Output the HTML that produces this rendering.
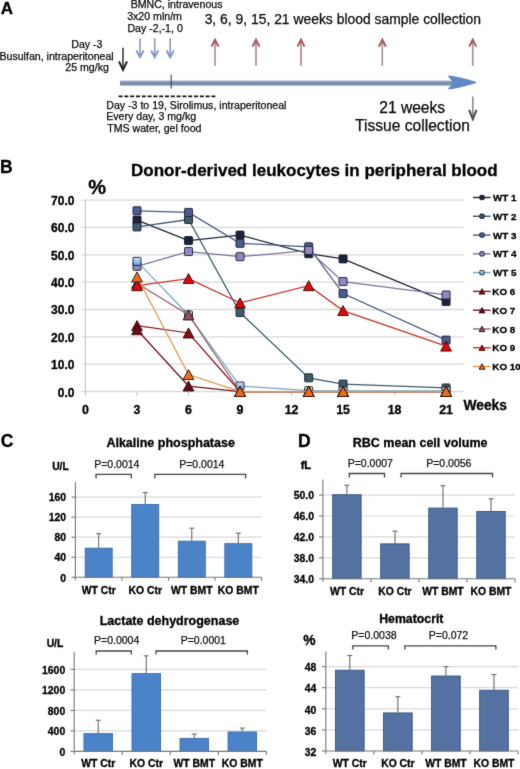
<!DOCTYPE html>
<html><head><meta charset="utf-8"><style>
html,body{margin:0;padding:0;background:#fff;}
svg{display:block;}
#w{width:520px;height:769px;overflow:hidden;will-change:transform;}
text{font-family:"Liberation Sans",sans-serif;}
</style></head><body><div id="w">
<svg width="520" height="769" viewBox="0 0 520 769">
<defs><filter id="bl" x="0" y="0" width="520" height="769" filterUnits="userSpaceOnUse" color-interpolation-filters="sRGB"><feConvolveMatrix order="3" kernelMatrix="1 2 1 2 28 2 1 2 1" divisor="40" edgeMode="duplicate"/></filter><linearGradient id="tb" x1="0" y1="0" x2="0" y2="1"><stop offset="0" stop-color="#b8c6dc"/><stop offset="0.3" stop-color="#8298b8"/><stop offset="0.65" stop-color="#72879f"/><stop offset="1" stop-color="#c4c8d0"/></linearGradient><linearGradient id="g5" x1="0" y1="0" x2="0" y2="1"><stop offset="0" stop-color="#c4e2f6"/><stop offset="1" stop-color="#6fa3d6"/></linearGradient></defs>
<g filter="url(#bl)"><rect width="520" height="769" fill="#fff"/>
<text x="0.68" y="13.50" font-size="17" font-weight="bold" fill="#000" stroke="#000" stroke-width="0.3"  >A</text>
<text x="71.25" y="48.30" font-size="10.6"  fill="#0a0a0a" stroke="#0a0a0a" stroke-width="0.25"  >Day -3</text>
<text x="-0.55" y="59.60" font-size="10.6"  fill="#0a0a0a" stroke="#0a0a0a" stroke-width="0.25"  >Busulfan, intraperitoneal</text>
<text x="65.27" y="71.20" font-size="10.6"  fill="#0a0a0a" stroke="#0a0a0a" stroke-width="0.25"  >25 mg/kg</text>
<text x="130.65" y="7.70" font-size="10.6"  fill="#0a0a0a" stroke="#0a0a0a" stroke-width="0.25"  >BMNC, intravenous</text>
<text x="127.18" y="19.60" font-size="10.6"  fill="#0a0a0a" stroke="#0a0a0a" stroke-width="0.25"  >3x20 mln/m</text>
<text x="127.45" y="32.30" font-size="10.6"  fill="#0a0a0a" stroke="#0a0a0a" stroke-width="0.25"  >Day -2,-1, 0</text>
<text x="204.64" y="23.50" font-size="13.9"  fill="#0a0a0a" stroke="#0a0a0a" stroke-width="0.25"  >3, 6, 9, 15, 21 weeks blood sample collection</text>
<text x="379.22" y="112.50" font-size="15.6"  fill="#0a0a0a" stroke="#0a0a0a" stroke-width="0.25"  >21 weeks</text>
<text x="355.11" y="130.75" font-size="15.6"  fill="#0a0a0a" stroke="#0a0a0a" stroke-width="0.25"  >Tissue collection</text>
<text x="106.25" y="108.80" font-size="10.6"  fill="#0a0a0a" stroke="#0a0a0a" stroke-width="0.25"  >Day -3 to 19, Sirolimus, intraperitoneal</text>
<text x="106.25" y="120.30" font-size="10.6"  fill="#0a0a0a" stroke="#0a0a0a" stroke-width="0.25"  >Every day, 3 mg/kg</text>
<text x="107.23" y="131.80" font-size="10.6"  fill="#0a0a0a" stroke="#0a0a0a" stroke-width="0.25"  >TMS water, gel food</text>
<line x1="123.00" y1="47.70" x2="123.00" y2="68.50" stroke="#3a3a3a" stroke-width="1.6" />
<path d="M119.00,61.50 L123.00,70.00 L127.00,61.50" fill="none" stroke="#222" stroke-width="2" stroke-linejoin="miter"/>
<line x1="140.00" y1="38.20" x2="140.00" y2="55.70" stroke="#9099ae" stroke-width="1.6" />
<path d="M136.40,50.60 L140.00,57.20 L143.60,50.60" fill="none" stroke="#8199cc" stroke-width="2" stroke-linejoin="miter"/>
<line x1="154.70" y1="38.20" x2="154.70" y2="55.70" stroke="#9099ae" stroke-width="1.6" />
<path d="M151.10,50.60 L154.70,57.20 L158.30,50.60" fill="none" stroke="#8199cc" stroke-width="2" stroke-linejoin="miter"/>
<line x1="170.20" y1="38.20" x2="170.20" y2="55.70" stroke="#9099ae" stroke-width="1.6" />
<path d="M166.60,50.60 L170.20,57.20 L173.80,50.60" fill="none" stroke="#8199cc" stroke-width="2" stroke-linejoin="miter"/>
<line x1="215.00" y1="41.30" x2="215.00" y2="65.80" stroke="#a58a8d" stroke-width="1.6" />
<path d="M211.50,46.60 L215.00,39.80 L218.50,46.60" fill="none" stroke="#a65562" stroke-width="2" stroke-linejoin="miter"/>
<line x1="256.00" y1="41.30" x2="256.00" y2="65.80" stroke="#a58a8d" stroke-width="1.6" />
<path d="M252.50,46.60 L256.00,39.80 L259.50,46.60" fill="none" stroke="#a65562" stroke-width="2" stroke-linejoin="miter"/>
<line x1="301.00" y1="41.30" x2="301.00" y2="65.80" stroke="#a58a8d" stroke-width="1.6" />
<path d="M297.50,46.60 L301.00,39.80 L304.50,46.60" fill="none" stroke="#a65562" stroke-width="2" stroke-linejoin="miter"/>
<line x1="382.30" y1="41.30" x2="382.30" y2="65.80" stroke="#a58a8d" stroke-width="1.6" />
<path d="M378.80,46.60 L382.30,39.80 L385.80,46.60" fill="none" stroke="#a65562" stroke-width="2" stroke-linejoin="miter"/>
<line x1="472.70" y1="41.30" x2="472.70" y2="65.80" stroke="#a58a8d" stroke-width="1.6" />
<path d="M469.20,46.60 L472.70,39.80 L476.20,46.60" fill="none" stroke="#a65562" stroke-width="2" stroke-linejoin="miter"/>
<line x1="472.80" y1="96.40" x2="472.80" y2="117.50" stroke="#8a8a8a" stroke-width="1.6" />
<path d="M469.10,109.80 L472.80,119.00 L476.50,109.80" fill="none" stroke="#4a4a4a" stroke-width="2" stroke-linejoin="miter"/>
<rect x="120.00" y="80.40" width="334.00" height="5.60" fill="url(#tb)" />
<path d="M452.8,80.6 L449,76.3 C457,77.3 467,80 475.5,82.4 C467,84.8 457,87.6 449,88.6 L452.8,85 Z" fill="#6088c4" stroke="#6088c4" stroke-width="1.6" stroke-linejoin="round"/>
<line x1="171.20" y1="75.00" x2="171.20" y2="88.50" stroke="#3a4658" stroke-width="1.1" />
<line x1="118.60" y1="96.40" x2="216.00" y2="96.40" stroke="#111" stroke-width="1.6" stroke-dasharray="4 1.8"/>
<text x="-0.04" y="172.70" font-size="17.5" font-weight="bold" fill="#000" stroke="#000" stroke-width="0.3"  >B</text>
<text x="131.09" y="175.80" font-size="17" font-weight="bold" fill="#000" stroke="#000" stroke-width="0.3"  >Donor-derived leukocytes in peripheral blood</text>
<text x="88.30" y="193.70" font-size="20" font-weight="bold" fill="#000" stroke="#000" stroke-width="0.3"  >%</text>
<line x1="81.70" y1="391.50" x2="463.70" y2="391.50" stroke="#d9d9d9" stroke-width="1.3" />
<text x="74.40" y="396.50" font-size="12" font-weight="bold" fill="#000" stroke="#000" stroke-width="0.3" text-anchor="end" >0.0</text>
<line x1="81.70" y1="364.16" x2="463.70" y2="364.16" stroke="#d9d9d9" stroke-width="1.3" />
<text x="74.40" y="369.16" font-size="12" font-weight="bold" fill="#000" stroke="#000" stroke-width="0.3" text-anchor="end" >10.0</text>
<line x1="81.70" y1="336.82" x2="463.70" y2="336.82" stroke="#d9d9d9" stroke-width="1.3" />
<text x="74.40" y="341.82" font-size="12" font-weight="bold" fill="#000" stroke="#000" stroke-width="0.3" text-anchor="end" >20.0</text>
<line x1="81.70" y1="309.48" x2="463.70" y2="309.48" stroke="#d9d9d9" stroke-width="1.3" />
<text x="74.40" y="314.48" font-size="12" font-weight="bold" fill="#000" stroke="#000" stroke-width="0.3" text-anchor="end" >30.0</text>
<line x1="81.70" y1="282.14" x2="463.70" y2="282.14" stroke="#d9d9d9" stroke-width="1.3" />
<text x="74.40" y="287.14" font-size="12" font-weight="bold" fill="#000" stroke="#000" stroke-width="0.3" text-anchor="end" >40.0</text>
<line x1="81.70" y1="254.80" x2="463.70" y2="254.80" stroke="#d9d9d9" stroke-width="1.3" />
<text x="74.40" y="259.80" font-size="12" font-weight="bold" fill="#000" stroke="#000" stroke-width="0.3" text-anchor="end" >50.0</text>
<line x1="81.70" y1="227.46" x2="463.70" y2="227.46" stroke="#d9d9d9" stroke-width="1.3" />
<text x="74.40" y="232.46" font-size="12" font-weight="bold" fill="#000" stroke="#000" stroke-width="0.3" text-anchor="end" >60.0</text>
<line x1="81.70" y1="200.12" x2="463.70" y2="200.12" stroke="#d9d9d9" stroke-width="1.3" />
<text x="74.40" y="205.12" font-size="12" font-weight="bold" fill="#000" stroke="#000" stroke-width="0.3" text-anchor="end" >70.0</text>
<line x1="85.40" y1="200.00" x2="85.40" y2="395.80" stroke="#c8c8c8" stroke-width="1.2" />
<line x1="85.50" y1="391.50" x2="85.50" y2="395.80" stroke="#c8c8c8" stroke-width="1.1" />
<text x="85.50" y="413.60" font-size="12.4" font-weight="bold" fill="#000" stroke="#000" stroke-width="0.3" text-anchor="middle" >0</text>
<line x1="137.01" y1="391.50" x2="137.01" y2="395.80" stroke="#c8c8c8" stroke-width="1.1" />
<text x="137.01" y="413.60" font-size="12.4" font-weight="bold" fill="#000" stroke="#000" stroke-width="0.3" text-anchor="middle" >3</text>
<line x1="188.52" y1="391.50" x2="188.52" y2="395.80" stroke="#c8c8c8" stroke-width="1.1" />
<text x="188.52" y="413.60" font-size="12.4" font-weight="bold" fill="#000" stroke="#000" stroke-width="0.3" text-anchor="middle" >6</text>
<line x1="240.03" y1="391.50" x2="240.03" y2="395.80" stroke="#c8c8c8" stroke-width="1.1" />
<text x="240.03" y="413.60" font-size="12.4" font-weight="bold" fill="#000" stroke="#000" stroke-width="0.3" text-anchor="middle" >9</text>
<line x1="291.54" y1="391.50" x2="291.54" y2="395.80" stroke="#c8c8c8" stroke-width="1.1" />
<text x="291.54" y="413.60" font-size="12.4" font-weight="bold" fill="#000" stroke="#000" stroke-width="0.3" text-anchor="middle" >12</text>
<line x1="343.05" y1="391.50" x2="343.05" y2="395.80" stroke="#c8c8c8" stroke-width="1.1" />
<text x="343.05" y="413.60" font-size="12.4" font-weight="bold" fill="#000" stroke="#000" stroke-width="0.3" text-anchor="middle" >15</text>
<line x1="394.56" y1="391.50" x2="394.56" y2="395.80" stroke="#c8c8c8" stroke-width="1.1" />
<text x="394.56" y="413.60" font-size="12.4" font-weight="bold" fill="#000" stroke="#000" stroke-width="0.3" text-anchor="middle" >18</text>
<line x1="446.07" y1="391.50" x2="446.07" y2="395.80" stroke="#c8c8c8" stroke-width="1.1" />
<text x="446.07" y="413.60" font-size="12.4" font-weight="bold" fill="#000" stroke="#000" stroke-width="0.3" text-anchor="middle" >21</text>
<text x="463.50" y="410.20" font-size="13.8" font-weight="bold" fill="#000" stroke="#000" stroke-width="0.3"  >Weeks</text>
<polyline points="137.01,220.08 188.52,240.58 240.03,235.12 308.71,253.71 343.05,258.90 446.07,301.55" fill="none" stroke="#1e2438" stroke-width="1.25"/>
<rect x="133.01" y="216.08" width="8.00" height="8.00" rx="0.8" fill="#1c2238" stroke="#1a1a2a" stroke-width="0.9"/>
<rect x="184.52" y="236.58" width="8.00" height="8.00" rx="0.8" fill="#1c2238" stroke="#1a1a2a" stroke-width="0.9"/>
<rect x="236.03" y="231.12" width="8.00" height="8.00" rx="0.8" fill="#1c2238" stroke="#1a1a2a" stroke-width="0.9"/>
<rect x="304.71" y="249.71" width="8.00" height="8.00" rx="0.8" fill="#1c2238" stroke="#1a1a2a" stroke-width="0.9"/>
<rect x="339.05" y="254.90" width="8.00" height="8.00" rx="0.8" fill="#1c2238" stroke="#1a1a2a" stroke-width="0.9"/>
<rect x="442.07" y="297.55" width="8.00" height="8.00" rx="0.8" fill="#1c2238" stroke="#1a1a2a" stroke-width="0.9"/>
<polyline points="137.01,226.91 188.52,219.53 240.03,312.49 308.71,377.83 343.05,384.12 446.07,387.95" fill="none" stroke="#3c5a66" stroke-width="1.25"/>
<rect x="133.01" y="222.91" width="8.00" height="8.00" rx="0.8" fill="#3d5c6a" stroke="#1a1a2a" stroke-width="0.9"/>
<rect x="184.52" y="215.53" width="8.00" height="8.00" rx="0.8" fill="#3d5c6a" stroke="#1a1a2a" stroke-width="0.9"/>
<rect x="236.03" y="308.49" width="8.00" height="8.00" rx="0.8" fill="#3d5c6a" stroke="#1a1a2a" stroke-width="0.9"/>
<rect x="304.71" y="373.83" width="8.00" height="8.00" rx="0.8" fill="#3d5c6a" stroke="#1a1a2a" stroke-width="0.9"/>
<rect x="339.05" y="380.12" width="8.00" height="8.00" rx="0.8" fill="#3d5c6a" stroke="#1a1a2a" stroke-width="0.9"/>
<rect x="442.07" y="383.95" width="8.00" height="8.00" rx="0.8" fill="#3d5c6a" stroke="#1a1a2a" stroke-width="0.9"/>
<polyline points="137.01,210.78 188.52,212.42 240.03,243.32 308.71,246.87 343.05,293.62 446.07,340.10" fill="none" stroke="#4a5a82" stroke-width="1.25"/>
<rect x="133.01" y="206.78" width="8.00" height="8.00" rx="0.8" fill="#4a5e94" stroke="#1a1a2a" stroke-width="0.9"/>
<rect x="184.52" y="208.42" width="8.00" height="8.00" rx="0.8" fill="#4a5e94" stroke="#1a1a2a" stroke-width="0.9"/>
<rect x="236.03" y="239.32" width="8.00" height="8.00" rx="0.8" fill="#4a5e94" stroke="#1a1a2a" stroke-width="0.9"/>
<rect x="304.71" y="242.87" width="8.00" height="8.00" rx="0.8" fill="#4a5e94" stroke="#1a1a2a" stroke-width="0.9"/>
<rect x="339.05" y="289.62" width="8.00" height="8.00" rx="0.8" fill="#4a5e94" stroke="#1a1a2a" stroke-width="0.9"/>
<rect x="442.07" y="336.10" width="8.00" height="8.00" rx="0.8" fill="#4a5e94" stroke="#1a1a2a" stroke-width="0.9"/>
<polyline points="137.01,266.28 188.52,251.52 240.03,256.71 308.71,250.43 343.05,281.59 446.07,294.99" fill="none" stroke="#7a7598" stroke-width="1.25"/>
<rect x="133.01" y="262.28" width="8.00" height="8.00" rx="0.8" fill="#9289c4" stroke="#1a1a2a" stroke-width="0.9"/>
<rect x="184.52" y="247.52" width="8.00" height="8.00" rx="0.8" fill="#9289c4" stroke="#1a1a2a" stroke-width="0.9"/>
<rect x="236.03" y="252.71" width="8.00" height="8.00" rx="0.8" fill="#9289c4" stroke="#1a1a2a" stroke-width="0.9"/>
<rect x="304.71" y="246.43" width="8.00" height="8.00" rx="0.8" fill="#9289c4" stroke="#1a1a2a" stroke-width="0.9"/>
<rect x="339.05" y="277.59" width="8.00" height="8.00" rx="0.8" fill="#9289c4" stroke="#1a1a2a" stroke-width="0.9"/>
<rect x="442.07" y="290.99" width="8.00" height="8.00" rx="0.8" fill="#9289c4" stroke="#1a1a2a" stroke-width="0.9"/>
<polyline points="137.01,261.36 188.52,314.95 240.03,386.03 308.71,390.68 343.05,390.95 446.07,390.95" fill="none" stroke="#78aabd" stroke-width="1.25"/>
<rect x="133.01" y="257.36" width="8.00" height="8.00" rx="0.8" fill="url(#g5)" stroke="#1a1a2a" stroke-width="0.9"/>
<rect x="184.52" y="310.95" width="8.00" height="8.00" rx="0.8" fill="url(#g5)" stroke="#1a1a2a" stroke-width="0.9"/>
<rect x="236.03" y="382.03" width="8.00" height="8.00" rx="0.8" fill="url(#g5)" stroke="#1a1a2a" stroke-width="0.9"/>
<rect x="304.71" y="386.68" width="8.00" height="8.00" rx="0.8" fill="url(#g5)" stroke="#1a1a2a" stroke-width="0.9"/>
<rect x="339.05" y="386.95" width="8.00" height="8.00" rx="0.8" fill="url(#g5)" stroke="#1a1a2a" stroke-width="0.9"/>
<rect x="442.07" y="386.95" width="8.00" height="8.00" rx="0.8" fill="url(#g5)" stroke="#1a1a2a" stroke-width="0.9"/>
<polyline points="137.01,325.61 188.52,332.99 240.03,391.50 308.71,391.50 343.05,391.50 446.07,391.50" fill="none" stroke="#861c24" stroke-width="1.25"/>
<path d="M137.01,320.61 L142.41,330.61 L131.61,330.61 Z" fill="#8a0a14" stroke="#2a0a0a" stroke-width="0.9" stroke-linejoin="miter"/>
<path d="M188.52,327.99 L193.92,337.99 L183.12,337.99 Z" fill="#8a0a14" stroke="#2a0a0a" stroke-width="0.9" stroke-linejoin="miter"/>
<path d="M240.03,386.50 L245.43,396.50 L234.63,396.50 Z" fill="#8a0a14" stroke="#2a0a0a" stroke-width="0.9" stroke-linejoin="miter"/>
<path d="M308.71,386.50 L314.11,396.50 L303.31,396.50 Z" fill="#8a0a14" stroke="#2a0a0a" stroke-width="0.9" stroke-linejoin="miter"/>
<path d="M343.05,386.50 L348.45,396.50 L337.65,396.50 Z" fill="#8a0a14" stroke="#2a0a0a" stroke-width="0.9" stroke-linejoin="miter"/>
<path d="M446.07,386.50 L451.47,396.50 L440.67,396.50 Z" fill="#8a0a14" stroke="#2a0a0a" stroke-width="0.9" stroke-linejoin="miter"/>
<polyline points="137.01,329.71 188.52,386.03 240.03,391.50 308.71,391.50 343.05,391.50 446.07,391.50" fill="none" stroke="#6e1a26" stroke-width="1.25"/>
<path d="M137.01,324.71 L142.41,334.71 L131.61,334.71 Z" fill="#6a0a18" stroke="#2a0a0a" stroke-width="0.9" stroke-linejoin="miter"/>
<path d="M188.52,381.03 L193.92,391.03 L183.12,391.03 Z" fill="#6a0a18" stroke="#2a0a0a" stroke-width="0.9" stroke-linejoin="miter"/>
<path d="M240.03,386.50 L245.43,396.50 L234.63,396.50 Z" fill="#6a0a18" stroke="#2a0a0a" stroke-width="0.9" stroke-linejoin="miter"/>
<path d="M308.71,386.50 L314.11,396.50 L303.31,396.50 Z" fill="#6a0a18" stroke="#2a0a0a" stroke-width="0.9" stroke-linejoin="miter"/>
<path d="M343.05,386.50 L348.45,396.50 L337.65,396.50 Z" fill="#6a0a18" stroke="#2a0a0a" stroke-width="0.9" stroke-linejoin="miter"/>
<path d="M446.07,386.50 L451.47,396.50 L440.67,396.50 Z" fill="#6a0a18" stroke="#2a0a0a" stroke-width="0.9" stroke-linejoin="miter"/>
<polyline points="137.01,283.23 188.52,314.95 240.03,391.50 308.71,391.50 343.05,391.50 446.07,391.50" fill="none" stroke="#98606e" stroke-width="1.25"/>
<path d="M137.01,278.23 L142.41,288.23 L131.61,288.23 Z" fill="#8e5060" stroke="#2a0a0a" stroke-width="0.9" stroke-linejoin="miter"/>
<path d="M188.52,309.95 L193.92,319.95 L183.12,319.95 Z" fill="#8e5060" stroke="#2a0a0a" stroke-width="0.9" stroke-linejoin="miter"/>
<path d="M240.03,386.50 L245.43,396.50 L234.63,396.50 Z" fill="#8e5060" stroke="#2a0a0a" stroke-width="0.9" stroke-linejoin="miter"/>
<path d="M308.71,386.50 L314.11,396.50 L303.31,396.50 Z" fill="#8e5060" stroke="#2a0a0a" stroke-width="0.9" stroke-linejoin="miter"/>
<path d="M343.05,386.50 L348.45,396.50 L337.65,396.50 Z" fill="#8e5060" stroke="#2a0a0a" stroke-width="0.9" stroke-linejoin="miter"/>
<path d="M446.07,386.50 L451.47,396.50 L440.67,396.50 Z" fill="#8e5060" stroke="#2a0a0a" stroke-width="0.9" stroke-linejoin="miter"/>
<polyline points="137.01,285.69 188.52,278.59 240.03,302.92 308.71,285.69 343.05,310.57 446.07,346.12" fill="none" stroke="#c8352f" stroke-width="1.25"/>
<path d="M137.01,280.69 L142.41,290.69 L131.61,290.69 Z" fill="#e00808" stroke="#2a0a0a" stroke-width="0.9" stroke-linejoin="miter"/>
<path d="M188.52,273.59 L193.92,283.59 L183.12,283.59 Z" fill="#e00808" stroke="#2a0a0a" stroke-width="0.9" stroke-linejoin="miter"/>
<path d="M240.03,297.92 L245.43,307.92 L234.63,307.92 Z" fill="#e00808" stroke="#2a0a0a" stroke-width="0.9" stroke-linejoin="miter"/>
<path d="M308.71,280.69 L314.11,290.69 L303.31,290.69 Z" fill="#e00808" stroke="#2a0a0a" stroke-width="0.9" stroke-linejoin="miter"/>
<path d="M343.05,305.57 L348.45,315.57 L337.65,315.57 Z" fill="#e00808" stroke="#2a0a0a" stroke-width="0.9" stroke-linejoin="miter"/>
<path d="M446.07,341.12 L451.47,351.12 L440.67,351.12 Z" fill="#e00808" stroke="#2a0a0a" stroke-width="0.9" stroke-linejoin="miter"/>
<polyline points="137.01,276.95 188.52,374.55 240.03,391.50 308.71,391.50 343.05,391.50 446.07,391.50" fill="none" stroke="#e29548" stroke-width="1.25"/>
<path d="M137.01,271.95 L142.41,281.95 L131.61,281.95 Z" fill="#e8701c" stroke="#2a0a0a" stroke-width="0.9" stroke-linejoin="miter"/>
<path d="M188.52,369.55 L193.92,379.55 L183.12,379.55 Z" fill="#e8701c" stroke="#2a0a0a" stroke-width="0.9" stroke-linejoin="miter"/>
<path d="M240.03,386.50 L245.43,396.50 L234.63,396.50 Z" fill="#e8701c" stroke="#2a0a0a" stroke-width="0.9" stroke-linejoin="miter"/>
<path d="M308.71,386.50 L314.11,396.50 L303.31,396.50 Z" fill="#e8701c" stroke="#2a0a0a" stroke-width="0.9" stroke-linejoin="miter"/>
<path d="M343.05,386.50 L348.45,396.50 L337.65,396.50 Z" fill="#e8701c" stroke="#2a0a0a" stroke-width="0.9" stroke-linejoin="miter"/>
<path d="M446.07,386.50 L451.47,396.50 L440.67,396.50 Z" fill="#e8701c" stroke="#2a0a0a" stroke-width="0.9" stroke-linejoin="miter"/>
<line x1="473.00" y1="197.50" x2="490.60" y2="197.50" stroke="#1e2438" stroke-width="1.4" />
<rect x="479.84" y="195.34" width="4.32" height="4.32" rx="0.8" fill="#1c2238" stroke="#1a1a2a" stroke-width="0.9"/>
<text x="493.00" y="201.10" font-size="9.8" font-weight="bold" fill="#000" stroke="#000" stroke-width="0.3"  >WT 1</text>
<line x1="473.00" y1="216.28" x2="490.60" y2="216.28" stroke="#3c5a66" stroke-width="1.4" />
<rect x="479.84" y="214.12" width="4.32" height="4.32" rx="0.8" fill="#3d5c6a" stroke="#1a1a2a" stroke-width="0.9"/>
<text x="493.00" y="219.88" font-size="9.8" font-weight="bold" fill="#000" stroke="#000" stroke-width="0.3"  >WT 2</text>
<line x1="473.00" y1="235.06" x2="490.60" y2="235.06" stroke="#4a5a82" stroke-width="1.4" />
<rect x="479.84" y="232.90" width="4.32" height="4.32" rx="0.8" fill="#4a5e94" stroke="#1a1a2a" stroke-width="0.9"/>
<text x="493.00" y="238.66" font-size="9.8" font-weight="bold" fill="#000" stroke="#000" stroke-width="0.3"  >WT 3</text>
<line x1="473.00" y1="253.84" x2="490.60" y2="253.84" stroke="#7a7598" stroke-width="1.4" />
<rect x="479.84" y="251.68" width="4.32" height="4.32" rx="0.8" fill="#9289c4" stroke="#1a1a2a" stroke-width="0.9"/>
<text x="493.00" y="257.44" font-size="9.8" font-weight="bold" fill="#000" stroke="#000" stroke-width="0.3"  >WT 4</text>
<line x1="473.00" y1="272.62" x2="490.60" y2="272.62" stroke="#78aabd" stroke-width="1.4" />
<rect x="479.84" y="270.46" width="4.32" height="4.32" rx="0.8" fill="url(#g5)" stroke="#1a1a2a" stroke-width="0.9"/>
<text x="493.00" y="276.22" font-size="9.8" font-weight="bold" fill="#000" stroke="#000" stroke-width="0.3"  >WT 5</text>
<line x1="473.00" y1="291.40" x2="490.60" y2="291.40" stroke="#861c24" stroke-width="1.4" />
<path d="M482.00,288.70 L484.92,294.10 L479.08,294.10 Z" fill="#8a0a14" stroke="#2a0a0a" stroke-width="0.9" stroke-linejoin="miter"/>
<text x="492.36" y="295.00" font-size="9.8" font-weight="bold" fill="#000" stroke="#000" stroke-width="0.3"  >KO 6</text>
<line x1="473.00" y1="310.18" x2="490.60" y2="310.18" stroke="#6e1a26" stroke-width="1.4" />
<path d="M482.00,307.48 L484.92,312.88 L479.08,312.88 Z" fill="#6a0a18" stroke="#2a0a0a" stroke-width="0.9" stroke-linejoin="miter"/>
<text x="492.36" y="313.78" font-size="9.8" font-weight="bold" fill="#000" stroke="#000" stroke-width="0.3"  >KO 7</text>
<line x1="473.00" y1="328.96" x2="490.60" y2="328.96" stroke="#98606e" stroke-width="1.4" />
<path d="M482.00,326.26 L484.92,331.66 L479.08,331.66 Z" fill="#8e5060" stroke="#2a0a0a" stroke-width="0.9" stroke-linejoin="miter"/>
<text x="492.36" y="332.56" font-size="9.8" font-weight="bold" fill="#000" stroke="#000" stroke-width="0.3"  >KO 8</text>
<line x1="473.00" y1="347.74" x2="490.60" y2="347.74" stroke="#c8352f" stroke-width="1.4" />
<path d="M482.00,345.04 L484.92,350.44 L479.08,350.44 Z" fill="#e00808" stroke="#2a0a0a" stroke-width="0.9" stroke-linejoin="miter"/>
<text x="492.36" y="351.34" font-size="9.8" font-weight="bold" fill="#000" stroke="#000" stroke-width="0.3"  >KO 9</text>
<line x1="473.00" y1="366.52" x2="490.60" y2="366.52" stroke="#e29548" stroke-width="1.4" />
<path d="M482.00,363.82 L484.92,369.22 L479.08,369.22 Z" fill="#e8701c" stroke="#2a0a0a" stroke-width="0.9" stroke-linejoin="miter"/>
<text x="492.36" y="370.12" font-size="9.8" font-weight="bold" fill="#000" stroke="#000" stroke-width="0.3"  >KO 10</text>
<text x="0.70" y="446.70" font-size="17.5" font-weight="bold" fill="#000" stroke="#000" stroke-width="0.3"  >C</text>
<text x="106.39" y="447.20" font-size="12.5" font-weight="bold" fill="#000" stroke="#000" stroke-width="0.3"  >Alkaline phosphatase</text>
<text x="52.18" y="469.80" font-size="10.3" font-weight="bold" fill="#000" stroke="#000" stroke-width="0.3"  >U/L</text>
<text x="94.16" y="467.90" font-size="10.5"  fill="#111" stroke="#111" stroke-width="0.25"  >P=0.0014</text>
<text x="179.16" y="467.90" font-size="10.5"  fill="#111" stroke="#111" stroke-width="0.25"  >P=0.0014</text>
<path d="M96.00,478.50 L96.00,474.30 L131.30,474.30 L131.30,478.50" fill="none" stroke="#444" stroke-width="1.3"/>
<path d="M154.80,478.50 L154.80,474.30 L245.60,474.30 L245.60,478.50" fill="none" stroke="#444" stroke-width="1.3"/>
<line x1="71.60" y1="577.30" x2="75.40" y2="577.30" stroke="#777" stroke-width="1.1" />
<text x="66.00" y="581.50" font-size="10.4" font-weight="bold" fill="#000" stroke="#000" stroke-width="0.3" text-anchor="end" >0</text>
<line x1="75.40" y1="557.25" x2="261.60" y2="557.25" stroke="#d9d9d9" stroke-width="1.2" />
<line x1="71.60" y1="557.25" x2="75.40" y2="557.25" stroke="#777" stroke-width="1.1" />
<text x="66.00" y="561.45" font-size="10.4" font-weight="bold" fill="#000" stroke="#000" stroke-width="0.3" text-anchor="end" >40</text>
<line x1="75.40" y1="537.20" x2="261.60" y2="537.20" stroke="#d9d9d9" stroke-width="1.2" />
<line x1="71.60" y1="537.20" x2="75.40" y2="537.20" stroke="#777" stroke-width="1.1" />
<text x="66.00" y="541.40" font-size="10.4" font-weight="bold" fill="#000" stroke="#000" stroke-width="0.3" text-anchor="end" >80</text>
<line x1="75.40" y1="517.15" x2="261.60" y2="517.15" stroke="#d9d9d9" stroke-width="1.2" />
<line x1="71.60" y1="517.15" x2="75.40" y2="517.15" stroke="#777" stroke-width="1.1" />
<text x="66.00" y="521.35" font-size="10.4" font-weight="bold" fill="#000" stroke="#000" stroke-width="0.3" text-anchor="end" >120</text>
<line x1="75.40" y1="497.10" x2="261.60" y2="497.10" stroke="#d9d9d9" stroke-width="1.2" />
<line x1="71.60" y1="497.10" x2="75.40" y2="497.10" stroke="#777" stroke-width="1.1" />
<text x="66.00" y="501.30" font-size="10.4" font-weight="bold" fill="#000" stroke="#000" stroke-width="0.3" text-anchor="end" >160</text>
<line x1="98.68" y1="533.69" x2="98.68" y2="547.73" stroke="#6a6a6a" stroke-width="1.1" />
<line x1="96.18" y1="533.69" x2="101.18" y2="533.69" stroke="#6a6a6a" stroke-width="1.1" />
<rect x="85.18" y="548.18" width="27.00" height="29.12" fill="#4b83c9" stroke="#3d6cab" stroke-width="0.9"/>
<line x1="145.23" y1="492.59" x2="145.23" y2="504.12" stroke="#6a6a6a" stroke-width="1.1" />
<line x1="142.73" y1="492.59" x2="147.73" y2="492.59" stroke="#6a6a6a" stroke-width="1.1" />
<rect x="131.73" y="504.57" width="27.00" height="72.73" fill="#4b83c9" stroke="#3d6cab" stroke-width="0.9"/>
<line x1="191.78" y1="528.18" x2="191.78" y2="540.71" stroke="#6a6a6a" stroke-width="1.1" />
<line x1="189.28" y1="528.18" x2="194.28" y2="528.18" stroke="#6a6a6a" stroke-width="1.1" />
<rect x="178.28" y="541.16" width="27.00" height="36.14" fill="#4b83c9" stroke="#3d6cab" stroke-width="0.9"/>
<line x1="238.33" y1="533.19" x2="238.33" y2="543.21" stroke="#6a6a6a" stroke-width="1.1" />
<line x1="235.83" y1="533.19" x2="240.83" y2="533.19" stroke="#6a6a6a" stroke-width="1.1" />
<rect x="224.83" y="543.66" width="27.00" height="33.64" fill="#4b83c9" stroke="#3d6cab" stroke-width="0.9"/>
<line x1="75.40" y1="482.00" x2="75.40" y2="580.30" stroke="#777" stroke-width="1.1" />
<line x1="75.40" y1="577.30" x2="261.60" y2="577.30" stroke="#777" stroke-width="1.1" />
<line x1="121.95" y1="577.30" x2="121.95" y2="580.80" stroke="#777" stroke-width="1.1" />
<line x1="168.50" y1="577.30" x2="168.50" y2="580.80" stroke="#777" stroke-width="1.1" />
<line x1="215.05" y1="577.30" x2="215.05" y2="580.80" stroke="#777" stroke-width="1.1" />
<line x1="261.60" y1="577.30" x2="261.60" y2="580.80" stroke="#777" stroke-width="1.1" />
<text x="98.68" y="593.80" font-size="10.4" font-weight="bold" fill="#000" stroke="#000" stroke-width="0.3" text-anchor="middle" >WT Ctr</text>
<text x="145.23" y="593.80" font-size="10.4" font-weight="bold" fill="#000" stroke="#000" stroke-width="0.3" text-anchor="middle" >KO Ctr</text>
<text x="191.78" y="593.80" font-size="10.4" font-weight="bold" fill="#000" stroke="#000" stroke-width="0.3" text-anchor="middle" >WT BMT</text>
<text x="238.33" y="593.80" font-size="10.4" font-weight="bold" fill="#000" stroke="#000" stroke-width="0.3" text-anchor="middle" >KO BMT</text>
<text x="99.69" y="624.60" font-size="12.5" font-weight="bold" fill="#000" stroke="#000" stroke-width="0.3"  >Lactate dehydrogenase</text>
<text x="46.68" y="647.00" font-size="10.3" font-weight="bold" fill="#000" stroke="#000" stroke-width="0.3"  >U/L</text>
<text x="94.06" y="643.50" font-size="10.5"  fill="#111" stroke="#111" stroke-width="0.25"  >P=0.0004</text>
<text x="180.66" y="643.50" font-size="10.5"  fill="#111" stroke="#111" stroke-width="0.25"  >P=0.0001</text>
<path d="M96.20,654.60 L96.20,651.00 L131.30,651.00 L131.30,654.60" fill="none" stroke="#444" stroke-width="1.3"/>
<path d="M156.00,654.60 L156.00,651.00 L247.40,651.00 L247.40,654.60" fill="none" stroke="#444" stroke-width="1.3"/>
<line x1="70.40" y1="751.40" x2="74.20" y2="751.40" stroke="#777" stroke-width="1.1" />
<text x="65.20" y="755.80" font-size="10.4" font-weight="bold" fill="#000" stroke="#000" stroke-width="0.3" text-anchor="end" >0</text>
<line x1="74.20" y1="730.90" x2="266.30" y2="730.90" stroke="#d9d9d9" stroke-width="1.2" />
<line x1="70.40" y1="730.90" x2="74.20" y2="730.90" stroke="#777" stroke-width="1.1" />
<text x="65.20" y="735.30" font-size="10.4" font-weight="bold" fill="#000" stroke="#000" stroke-width="0.3" text-anchor="end" >400</text>
<line x1="74.20" y1="710.40" x2="266.30" y2="710.40" stroke="#d9d9d9" stroke-width="1.2" />
<line x1="70.40" y1="710.40" x2="74.20" y2="710.40" stroke="#777" stroke-width="1.1" />
<text x="65.20" y="714.80" font-size="10.4" font-weight="bold" fill="#000" stroke="#000" stroke-width="0.3" text-anchor="end" >800</text>
<line x1="74.20" y1="689.90" x2="266.30" y2="689.90" stroke="#d9d9d9" stroke-width="1.2" />
<line x1="70.40" y1="689.90" x2="74.20" y2="689.90" stroke="#777" stroke-width="1.1" />
<text x="65.20" y="694.30" font-size="10.4" font-weight="bold" fill="#000" stroke="#000" stroke-width="0.3" text-anchor="end" >1200</text>
<line x1="74.20" y1="669.40" x2="266.30" y2="669.40" stroke="#d9d9d9" stroke-width="1.2" />
<line x1="70.40" y1="669.40" x2="74.20" y2="669.40" stroke="#777" stroke-width="1.1" />
<text x="65.20" y="673.80" font-size="10.4" font-weight="bold" fill="#000" stroke="#000" stroke-width="0.3" text-anchor="end" >1600</text>
<line x1="98.21" y1="720.29" x2="98.21" y2="733.21" stroke="#6a6a6a" stroke-width="1.1" />
<line x1="95.71" y1="720.29" x2="100.71" y2="720.29" stroke="#6a6a6a" stroke-width="1.1" />
<rect x="83.96" y="733.66" width="28.50" height="17.74" fill="#4b83c9" stroke="#3d6cab" stroke-width="0.9"/>
<line x1="146.24" y1="655.82" x2="146.24" y2="673.19" stroke="#6a6a6a" stroke-width="1.1" />
<line x1="143.74" y1="655.82" x2="148.74" y2="655.82" stroke="#6a6a6a" stroke-width="1.1" />
<rect x="131.99" y="673.64" width="28.50" height="77.76" fill="#4b83c9" stroke="#3d6cab" stroke-width="0.9"/>
<line x1="194.26" y1="734.13" x2="194.26" y2="737.92" stroke="#6a6a6a" stroke-width="1.1" />
<line x1="191.76" y1="734.13" x2="196.76" y2="734.13" stroke="#6a6a6a" stroke-width="1.1" />
<rect x="180.01" y="738.37" width="28.50" height="13.03" fill="#4b83c9" stroke="#3d6cab" stroke-width="0.9"/>
<line x1="242.29" y1="728.08" x2="242.29" y2="731.51" stroke="#6a6a6a" stroke-width="1.1" />
<line x1="239.79" y1="728.08" x2="244.79" y2="728.08" stroke="#6a6a6a" stroke-width="1.1" />
<rect x="228.04" y="731.97" width="28.50" height="19.43" fill="#4b83c9" stroke="#3d6cab" stroke-width="0.9"/>
<line x1="74.20" y1="652.00" x2="74.20" y2="754.40" stroke="#777" stroke-width="1.1" />
<line x1="74.20" y1="751.40" x2="266.30" y2="751.40" stroke="#777" stroke-width="1.1" />
<line x1="122.23" y1="751.40" x2="122.23" y2="754.90" stroke="#777" stroke-width="1.1" />
<line x1="170.25" y1="751.40" x2="170.25" y2="754.90" stroke="#777" stroke-width="1.1" />
<line x1="218.28" y1="751.40" x2="218.28" y2="754.90" stroke="#777" stroke-width="1.1" />
<line x1="266.30" y1="751.40" x2="266.30" y2="754.90" stroke="#777" stroke-width="1.1" />
<text x="98.21" y="767.20" font-size="10.4" font-weight="bold" fill="#000" stroke="#000" stroke-width="0.3" text-anchor="middle" >WT Ctr</text>
<text x="146.24" y="767.20" font-size="10.4" font-weight="bold" fill="#000" stroke="#000" stroke-width="0.3" text-anchor="middle" >KO Ctr</text>
<text x="194.26" y="767.20" font-size="10.4" font-weight="bold" fill="#000" stroke="#000" stroke-width="0.3" text-anchor="middle" >WT BMT</text>
<text x="242.29" y="767.20" font-size="10.4" font-weight="bold" fill="#000" stroke="#000" stroke-width="0.3" text-anchor="middle" >KO BMT</text>
<text x="298.06" y="446.80" font-size="17.5" font-weight="bold" fill="#000" stroke="#000" stroke-width="0.3"  >D</text>
<text x="352.79" y="447.30" font-size="12.5" font-weight="bold" fill="#000" stroke="#000" stroke-width="0.3"  >RBC mean cell volume</text>
<text x="300.63" y="468.80" font-size="11.2" font-weight="bold" fill="#000" stroke="#000" stroke-width="0.3"  >fL</text>
<text x="347.66" y="467.00" font-size="10.5"  fill="#111" stroke="#111" stroke-width="0.25"  >P=0.0007</text>
<text x="426.16" y="467.00" font-size="10.5"  fill="#111" stroke="#111" stroke-width="0.25"  >P=0.0056</text>
<path d="M349.30,477.50 L349.30,473.50 L384.50,473.50 L384.50,477.50" fill="none" stroke="#444" stroke-width="1.3"/>
<path d="M401.10,477.50 L401.10,473.50 L492.50,473.50 L492.50,477.50" fill="none" stroke="#444" stroke-width="1.3"/>
<line x1="319.10" y1="578.70" x2="322.90" y2="578.70" stroke="#777" stroke-width="1.1" />
<text x="314.00" y="582.90" font-size="10.4" font-weight="bold" fill="#000" stroke="#000" stroke-width="0.3" text-anchor="end" >34.0</text>
<line x1="322.90" y1="557.80" x2="515.00" y2="557.80" stroke="#d9d9d9" stroke-width="1.2" />
<line x1="319.10" y1="557.80" x2="322.90" y2="557.80" stroke="#777" stroke-width="1.1" />
<text x="314.00" y="562.00" font-size="10.4" font-weight="bold" fill="#000" stroke="#000" stroke-width="0.3" text-anchor="end" >38.0</text>
<line x1="322.90" y1="536.90" x2="515.00" y2="536.90" stroke="#d9d9d9" stroke-width="1.2" />
<line x1="319.10" y1="536.90" x2="322.90" y2="536.90" stroke="#777" stroke-width="1.1" />
<text x="314.00" y="541.10" font-size="10.4" font-weight="bold" fill="#000" stroke="#000" stroke-width="0.3" text-anchor="end" >42.0</text>
<line x1="322.90" y1="516.00" x2="515.00" y2="516.00" stroke="#d9d9d9" stroke-width="1.2" />
<line x1="319.10" y1="516.00" x2="322.90" y2="516.00" stroke="#777" stroke-width="1.1" />
<text x="314.00" y="520.20" font-size="10.4" font-weight="bold" fill="#000" stroke="#000" stroke-width="0.3" text-anchor="end" >46.0</text>
<line x1="322.90" y1="495.10" x2="515.00" y2="495.10" stroke="#d9d9d9" stroke-width="1.2" />
<line x1="319.10" y1="495.10" x2="322.90" y2="495.10" stroke="#777" stroke-width="1.1" />
<text x="314.00" y="499.30" font-size="10.4" font-weight="bold" fill="#000" stroke="#000" stroke-width="0.3" text-anchor="end" >50.0</text>
<line x1="346.91" y1="485.17" x2="346.91" y2="494.32" stroke="#6a6a6a" stroke-width="1.1" />
<line x1="344.41" y1="485.17" x2="349.41" y2="485.17" stroke="#6a6a6a" stroke-width="1.1" />
<rect x="332.71" y="494.77" width="28.40" height="83.93" fill="#5472a2" stroke="#33507e" stroke-width="0.9"/>
<line x1="394.94" y1="531.15" x2="394.94" y2="543.43" stroke="#6a6a6a" stroke-width="1.1" />
<line x1="392.44" y1="531.15" x2="397.44" y2="531.15" stroke="#6a6a6a" stroke-width="1.1" />
<rect x="380.74" y="543.88" width="28.40" height="34.82" fill="#5472a2" stroke="#33507e" stroke-width="0.9"/>
<line x1="442.96" y1="485.70" x2="442.96" y2="507.64" stroke="#6a6a6a" stroke-width="1.1" />
<line x1="440.46" y1="485.70" x2="445.46" y2="485.70" stroke="#6a6a6a" stroke-width="1.1" />
<rect x="428.76" y="508.09" width="28.40" height="70.61" fill="#5472a2" stroke="#33507e" stroke-width="0.9"/>
<line x1="490.99" y1="498.76" x2="490.99" y2="511.04" stroke="#6a6a6a" stroke-width="1.1" />
<line x1="488.49" y1="498.76" x2="493.49" y2="498.76" stroke="#6a6a6a" stroke-width="1.1" />
<rect x="476.79" y="511.49" width="28.40" height="67.21" fill="#5472a2" stroke="#33507e" stroke-width="0.9"/>
<line x1="322.90" y1="479.60" x2="322.90" y2="581.70" stroke="#777" stroke-width="1.1" />
<line x1="322.90" y1="578.70" x2="515.00" y2="578.70" stroke="#777" stroke-width="1.1" />
<line x1="370.92" y1="578.70" x2="370.92" y2="582.20" stroke="#777" stroke-width="1.1" />
<line x1="418.95" y1="578.70" x2="418.95" y2="582.20" stroke="#777" stroke-width="1.1" />
<line x1="466.98" y1="578.70" x2="466.98" y2="582.20" stroke="#777" stroke-width="1.1" />
<line x1="515.00" y1="578.70" x2="515.00" y2="582.20" stroke="#777" stroke-width="1.1" />
<text x="346.91" y="594.60" font-size="10.4" font-weight="bold" fill="#000" stroke="#000" stroke-width="0.3" text-anchor="middle" >WT Ctr</text>
<text x="394.94" y="594.60" font-size="10.4" font-weight="bold" fill="#000" stroke="#000" stroke-width="0.3" text-anchor="middle" >KO Ctr</text>
<text x="442.96" y="594.60" font-size="10.4" font-weight="bold" fill="#000" stroke="#000" stroke-width="0.3" text-anchor="middle" >WT BMT</text>
<text x="490.99" y="594.60" font-size="10.4" font-weight="bold" fill="#000" stroke="#000" stroke-width="0.3" text-anchor="middle" >KO BMT</text>
<text x="303.35" y="645.30" font-size="13.8" font-weight="bold" fill="#000" stroke="#000" stroke-width="0.3"  >%</text>
<text x="379.20" y="623.40" font-size="12.3" font-weight="bold" fill="#000" stroke="#000" stroke-width="0.3"  >Hematocrit</text>
<text x="351.36" y="639.40" font-size="10.5"  fill="#111" stroke="#111" stroke-width="0.25"  >P=0.0038</text>
<text x="428.76" y="639.40" font-size="10.5"  fill="#111" stroke="#111" stroke-width="0.25"  >P=0.072</text>
<path d="M352.80,649.60 L352.80,645.80 L388.40,645.80 L388.40,649.60" fill="none" stroke="#444" stroke-width="1.3"/>
<path d="M404.80,649.60 L404.80,645.80 L495.90,645.80 L495.90,649.60" fill="none" stroke="#444" stroke-width="1.3"/>
<line x1="322.00" y1="751.00" x2="325.80" y2="751.00" stroke="#777" stroke-width="1.1" />
<text x="316.30" y="755.70" font-size="10.4" font-weight="bold" fill="#000" stroke="#000" stroke-width="0.3" text-anchor="end" >32</text>
<line x1="325.80" y1="729.90" x2="518.00" y2="729.90" stroke="#d9d9d9" stroke-width="1.2" />
<line x1="322.00" y1="729.90" x2="325.80" y2="729.90" stroke="#777" stroke-width="1.1" />
<text x="316.30" y="734.60" font-size="10.4" font-weight="bold" fill="#000" stroke="#000" stroke-width="0.3" text-anchor="end" >36</text>
<line x1="325.80" y1="708.80" x2="518.00" y2="708.80" stroke="#d9d9d9" stroke-width="1.2" />
<line x1="322.00" y1="708.80" x2="325.80" y2="708.80" stroke="#777" stroke-width="1.1" />
<text x="316.30" y="713.50" font-size="10.4" font-weight="bold" fill="#000" stroke="#000" stroke-width="0.3" text-anchor="end" >40</text>
<line x1="325.80" y1="687.70" x2="518.00" y2="687.70" stroke="#d9d9d9" stroke-width="1.2" />
<line x1="322.00" y1="687.70" x2="325.80" y2="687.70" stroke="#777" stroke-width="1.1" />
<text x="316.30" y="692.40" font-size="10.4" font-weight="bold" fill="#000" stroke="#000" stroke-width="0.3" text-anchor="end" >44</text>
<line x1="325.80" y1="666.60" x2="518.00" y2="666.60" stroke="#d9d9d9" stroke-width="1.2" />
<line x1="322.00" y1="666.60" x2="325.80" y2="666.60" stroke="#777" stroke-width="1.1" />
<text x="316.30" y="671.30" font-size="10.4" font-weight="bold" fill="#000" stroke="#000" stroke-width="0.3" text-anchor="end" >48</text>
<line x1="349.82" y1="655.52" x2="349.82" y2="669.76" stroke="#6a6a6a" stroke-width="1.1" />
<line x1="347.32" y1="655.52" x2="352.32" y2="655.52" stroke="#6a6a6a" stroke-width="1.1" />
<rect x="335.52" y="670.22" width="28.60" height="80.79" fill="#5472a2" stroke="#33507e" stroke-width="0.9"/>
<line x1="397.88" y1="696.67" x2="397.88" y2="712.49" stroke="#6a6a6a" stroke-width="1.1" />
<line x1="395.38" y1="696.67" x2="400.38" y2="696.67" stroke="#6a6a6a" stroke-width="1.1" />
<rect x="383.57" y="712.94" width="28.60" height="38.06" fill="#5472a2" stroke="#33507e" stroke-width="0.9"/>
<line x1="445.93" y1="666.60" x2="445.93" y2="675.57" stroke="#6a6a6a" stroke-width="1.1" />
<line x1="443.43" y1="666.60" x2="448.43" y2="666.60" stroke="#6a6a6a" stroke-width="1.1" />
<rect x="431.62" y="676.02" width="28.60" height="74.98" fill="#5472a2" stroke="#33507e" stroke-width="0.9"/>
<line x1="493.98" y1="674.51" x2="493.98" y2="689.81" stroke="#6a6a6a" stroke-width="1.1" />
<line x1="491.48" y1="674.51" x2="496.48" y2="674.51" stroke="#6a6a6a" stroke-width="1.1" />
<rect x="479.68" y="690.26" width="28.60" height="60.74" fill="#5472a2" stroke="#33507e" stroke-width="0.9"/>
<line x1="325.80" y1="651.50" x2="325.80" y2="754.00" stroke="#777" stroke-width="1.1" />
<line x1="325.80" y1="751.00" x2="518.00" y2="751.00" stroke="#777" stroke-width="1.1" />
<line x1="373.85" y1="751.00" x2="373.85" y2="754.50" stroke="#777" stroke-width="1.1" />
<line x1="421.90" y1="751.00" x2="421.90" y2="754.50" stroke="#777" stroke-width="1.1" />
<line x1="469.95" y1="751.00" x2="469.95" y2="754.50" stroke="#777" stroke-width="1.1" />
<line x1="518.00" y1="751.00" x2="518.00" y2="754.50" stroke="#777" stroke-width="1.1" />
<text x="349.82" y="766.80" font-size="10.4" font-weight="bold" fill="#000" stroke="#000" stroke-width="0.3" text-anchor="middle" >WT Ctr</text>
<text x="397.88" y="766.80" font-size="10.4" font-weight="bold" fill="#000" stroke="#000" stroke-width="0.3" text-anchor="middle" >KO Ctr</text>
<text x="445.93" y="766.80" font-size="10.4" font-weight="bold" fill="#000" stroke="#000" stroke-width="0.3" text-anchor="middle" >WT BMT</text>
<text x="493.98" y="766.80" font-size="10.4" font-weight="bold" fill="#000" stroke="#000" stroke-width="0.3" text-anchor="middle" >KO BMT</text></g>
</svg></div></body></html>
